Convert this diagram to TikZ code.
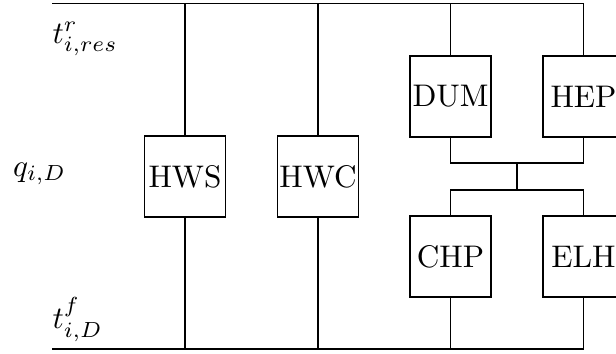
\documentclass[tikz,border=0pt]{standalone}
\begin{document}
\begin{tikzpicture}[x=0.32pt,y=-0.32pt,
  unit/.style={draw,minimum width=25.9pt,minimum height=25.9pt,inner sep=0pt,font=\fontsize{10}{12}\selectfont},
  lbl/.style={anchor=base west,inner sep=0pt},
  wire/.style={line width=0.4pt}]
\useasboundingbox (0,0) rectangle (616,354);
\coordinate (tl) at (52,3.5);
\coordinate (tr) at (583.5,3.5);
\coordinate (bl) at (52,349);
\coordinate (br) at (583.5,349);
\node[unit] (hws) at (185,176.5) {HWS};
\node[unit] (hwc) at (318,176.5) {HWC};
\node[unit] (dum) at (450.5,96.5) {DUM};
\node[unit] (hep) at (583.5,96.5) {HEP};
\node[unit] (chp) at (450.5,256.5) {CHP};
\node[unit] (elh) at (583.5,256.5) {ELH};
\coordinate (j1) at (517,163);
\coordinate (j2) at (517,190);
\node[lbl] (tres) at (52,43) {$t^r_{i,res}$};
\node[lbl] (qid) at (12.5,176) {$q_{i,D}$};
\node[lbl] (tfd) at (52,328) {$t^f_{i,D}$};
\draw[wire] (tl) -- (tr);
\draw[wire] (bl) -- (br);
\draw[wire] (hws.north) -- (hws.north |- tl);
\draw[wire] (hws.south) -- (hws.south |- bl);
\draw[wire] (hwc.north) -- (hwc.north |- tl);
\draw[wire] (hwc.south) -- (hwc.south |- bl);
\draw[wire] (dum.north) -- (dum.north |- tl);
\draw[wire] (hep.north) -- (hep.north |- tl);
\draw[wire] (dum.south) |- (j1) -| (hep.south);
\draw[wire] (j1) -- (j2);
\draw[wire] (chp.north) |- (j2) -| (elh.north);
\draw[wire] (chp.south) -- (chp.south |- bl);
\draw[wire] (elh.south) -- (elh.south |- bl);
\end{tikzpicture}
\end{document}
